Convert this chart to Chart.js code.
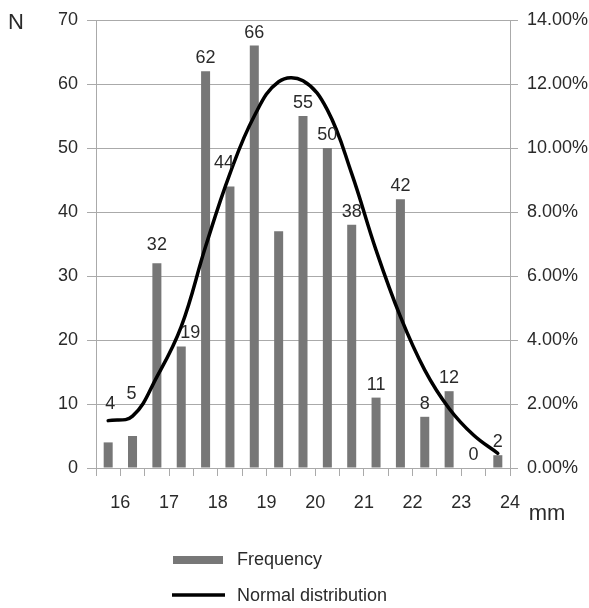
<!DOCTYPE html>
<html>
<head>
<meta charset="utf-8">
<script src="https://cdn.jsdelivr.net/npm/chart.js@4/dist/chart.umd.min.js"></script>
<style>
  html, body { margin: 0; padding: 0; background: #fff; }
  #wrap { width: 589px; height: 608px; }
</style>
</head>
<body>
<div id="wrap"><canvas id="freqChart"></canvas></div>
<script>
// bins (mm), bar counts and the fitted normal curve (% of total)
const bins = ['15.75', '16.25', '16.75', '17.25', '17.75', '18.25', '18.75', '19.25', '19.75',
              '20.25', '20.75', '21.25', '21.75', '22.25', '22.75', '23.25', '23.75'];
const frequency = [4, 5, 32, 19, 62, 44, 66, 37, 55, 50, 38, 11, 42, 8, 12, 0, 2];
const normalPct = [1.48, 1.62, 2.85, 4.42, 6.92, 9.2, 11.0, 12.07, 12.1, 11.19, 9.2, 6.81, 4.73, 3.06, 1.86, 1.03, 0.46];
const mmTicks = [16, 17, 18, 19, 20, 21, 22, 23, 24];
const countTicks = [0, 10, 20, 30, 40, 50, 60, 70];
const pctTicks = [0, 2, 4, 6, 8, 10, 12, 14];

const FONT = '"Liberation Sans", Arial, sans-serif';
const TEXT = '#2a2a2a';
const GRID = '#aaa';
const BAR = '#777';

// numbers above the bars (a few are shifted off the curve, one is not shown, as in the original)
const barLabels = {
    id: 'barLabels',
    afterDatasetsDraw(chart, args, opts) {
        const ctx = chart.ctx;
        const meta = chart.getDatasetMeta(0);
        ctx.save();
        ctx.font = '18px ' + FONT;
        ctx.fillStyle = TEXT;
        ctx.textAlign = 'center';
        ctx.textBaseline = 'middle';
        meta.data.forEach((bar, i) => {
            if (opts.hidden.includes(i)) return;
            const n = opts.nudge[i] || [0, 0];
            ctx.fillText(String(frequency[i]), bar.x + n[0], bar.y - 13 + n[1]);
        });
        ctx.restore();
    }
};

// axis titles and the stacked legend underneath
const extras = {
    id: 'extras',
    afterDraw(chart) {
        const ctx = chart.ctx;
        ctx.save();
        ctx.fillStyle = TEXT;
        ctx.font = '22px ' + FONT;
        ctx.textAlign = 'center';
        ctx.textBaseline = 'middle';
        ctx.fillText('N', 16, 23);
        ctx.fillText('mm', 547, 514);

        const ds = chart.data.datasets;
        ctx.font = '18px ' + FONT;
        ctx.textAlign = 'left';
        // Frequency swatch
        ctx.fillStyle = ds[0].backgroundColor;
        ctx.fillRect(173, 556, 50, 8);
        ctx.fillStyle = TEXT;
        ctx.fillText(ds[0].label, 237, 560);
        // Normal distribution line
        ctx.strokeStyle = ds[1].borderColor;
        ctx.lineWidth = 3.5;
        ctx.beginPath();
        ctx.moveTo(172, 595);
        ctx.lineTo(225, 595);
        ctx.stroke();
        ctx.fillText(ds[1].label, 237, 596);
        ctx.restore();
    }
};

new Chart(document.getElementById('freqChart'), {
    data: {
        labels: bins,
        datasets: [
            {
                type: 'bar',
                label: 'Frequency',
                data: frequency,
                backgroundColor: BAR,
                barPercentage: 0.37,
                categoryPercentage: 1,
                yAxisID: 'y',
                xAxisID: 'x',
                order: 2
            },
            {
                type: 'line',
                label: 'Normal distribution',
                data: normalPct,
                borderColor: '#000',
                borderWidth: 3.5,
                pointRadius: 0,
                fill: false,
                tension: 0.4,
                borderCapStyle: 'round',
                yAxisID: 'y1',
                xAxisID: 'x',
                order: 1
            }
        ]
    },
    options: {
        responsive: true,
        maintainAspectRatio: false,
        animation: false,
        layout: { padding: { top: 20, bottom: 93, left: 0, right: 0 } },
        plugins: {
            legend: { display: false },
            tooltip: { enabled: false },
            barLabels: {
                hidden: [7],
                nudge: { 0: [2, -25], 1: [-1, -29], 2: [0, -5], 3: [9, 0], 5: [-6, -10] }
            }
        },
        scales: {
            x: {
                type: 'category',
                position: 'bottom',
                offset: true,
                grid: { offset: true, drawOnChartArea: false, drawTicks: true, tickLength: 8, color: GRID },
                border: { display: true, color: GRID },
                ticks: { display: false },
                afterFit(scale) { scale.height = 8; }
            },
            x2: {
                type: 'linear',
                position: 'bottom',
                min: 15.5,
                max: 24,
                grid: { display: false, drawTicks: false },
                border: { display: false },
                ticks: { autoSkip: false, padding: 16, color: TEXT, font: { family: FONT, size: 18 } },
                afterBuildTicks(scale) { scale.ticks = mmTicks.map(v => ({ value: v })); },
                afterFit(scale) { scale.height = 39; }
            },
            y: {
                type: 'linear',
                position: 'left',
                min: 0,
                max: 70,
                grid: { color: GRID, tickLength: 9 },
                border: { display: true, color: GRID },
                ticks: { padding: 9, color: TEXT, font: { family: FONT, size: 18 } },
                afterBuildTicks(scale) { scale.ticks = countTicks.map(v => ({ value: v })); },
                afterFit(scale) { scale.width = 96; }
            },
            y1: {
                type: 'linear',
                position: 'right',
                min: 0,
                max: 14,
                grid: { drawOnChartArea: false, color: GRID, tickLength: 8 },
                border: { display: true, color: GRID },
                ticks: {
                    padding: 9, color: TEXT, font: { family: FONT, size: 18 },
                    callback: v => v.toFixed(2) + '%'
                },
                afterBuildTicks(scale) { scale.ticks = pctTicks.map(v => ({ value: v })); },
                afterFit(scale) { scale.width = 79; }
            }
        }
    },
    plugins: [barLabels, extras]
});
</script>
</body>
</html>
